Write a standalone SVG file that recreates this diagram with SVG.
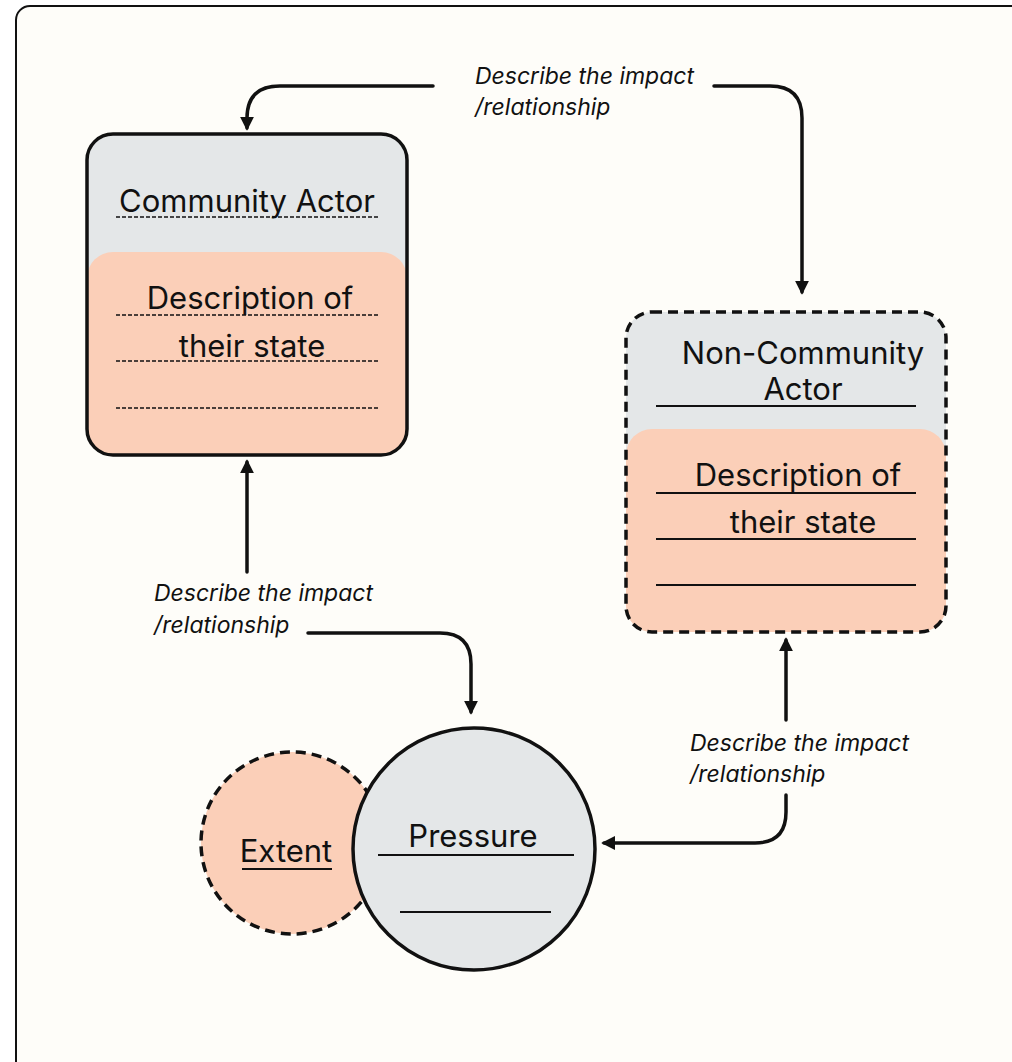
<svg xmlns="http://www.w3.org/2000/svg" width="1012" height="1062" viewBox="0 0 1012 1062">
<style>
.t{font-family:Inter,"Liberation Sans",sans-serif;font-size:31px;fill:#111}
.l{font-family:Inter,"Liberation Sans",sans-serif;font-size:23px;font-style:italic;fill:#111}
.c{fill:none;stroke:#111;stroke-width:3.5;stroke-linecap:round}
.u{stroke:#111;stroke-width:1.8;fill:none}
.ud{stroke:#111;stroke-width:1.5;stroke-dasharray:4 2;fill:none}
</style>
<defs>
<marker id="ah" viewBox="0 0 10 10" refX="8" refY="5" markerWidth="4" markerHeight="4" orient="auto-start-reverse" markerUnits="strokeWidth">
<path d="M0,0 L10,5 L0,10 z" fill="#111"/>
</marker>
<clipPath id="cpA"><rect x="87" y="134" width="320" height="321" rx="26"/></clipPath>
<clipPath id="cpB"><rect x="626" y="312" width="320" height="320" rx="26"/></clipPath>
</defs>
<rect x="16" y="6" width="1020" height="1080" rx="14" fill="#fefdf9" stroke="#111" stroke-width="2"/>
<g id="connectors">
<path class="c" d="M433,86 H280 Q247,86 247,118 V128" marker-end="url(#ah)"/>
<path class="c" d="M714,86 H770 Q802,86 802,118 V292" marker-end="url(#ah)"/>
<path class="c" d="M247,572 V462" marker-end="url(#ah)"/>
<path class="c" d="M308,633 H440 Q471,633 471,664 V712" marker-end="url(#ah)"/>
<path class="c" d="M786,720 V640" marker-end="url(#ah)"/>
<path class="c" d="M786,795 V812 Q786,843 755,843 H604" marker-end="url(#ah)"/>
<text class="l" x="475" y="84">Describe the impact</text>
<text class="l" x="475" y="115">/relationship</text>
<text class="l" x="154" y="601">Describe the impact</text>
<text class="l" x="154" y="633">/relationship</text>
<text class="l" x="690" y="751">Describe the impact</text>
<text class="l" x="690" y="782">/relationship</text>
</g>
<g id="community-actor">
<g clip-path="url(#cpA)">
<rect x="87" y="134" width="320" height="321" fill="#e4e7e8"/>
<rect x="87" y="252" width="320" height="240" rx="26" fill="#fbcfb8"/>
</g>
<rect x="87" y="134" width="320" height="321" rx="26" fill="none" stroke="#111" stroke-width="3.5"/>
<text class="t" x="247" y="212" text-anchor="middle">Community Actor</text>
<line class="ud" x1="116" y1="217" x2="378" y2="217"/>
<text class="t" x="250" y="309" text-anchor="middle">Description of</text>
<line class="ud" x1="116" y1="315" x2="378" y2="315"/>
<text class="t" x="252" y="357" text-anchor="middle">their state</text>
<line class="ud" x1="116" y1="361" x2="378" y2="361"/>
<line class="ud" x1="116" y1="408" x2="378" y2="408"/>
</g>
<g id="non-community-actor">
<g clip-path="url(#cpB)">
<rect x="626" y="312" width="320" height="320" fill="#e4e7e8"/>
<rect x="626" y="429" width="320" height="240" rx="26" fill="#fbcfb8"/>
</g>
<rect x="626" y="312" width="320" height="320" rx="26" fill="none" stroke="#111" stroke-width="3.5" stroke-dasharray="10 6"/>
<text class="t" x="803" y="364" text-anchor="middle">Non-Community</text>
<text class="t" x="803" y="400" text-anchor="middle">Actor</text>
<line class="u" x1="656" y1="406" x2="916" y2="406"/>
<text class="t" x="798" y="486" text-anchor="middle">Description of</text>
<line class="u" x1="656" y1="493" x2="916" y2="493"/>
<text class="t" x="803" y="533" text-anchor="middle">their state</text>
<line class="u" x1="656" y1="539" x2="916" y2="539"/>
<line class="u" x1="656" y1="585" x2="916" y2="585"/>
</g>
<g id="extent">
<circle cx="292" cy="843" r="91" fill="#fbcfb8" stroke="#111" stroke-width="3.5" stroke-dasharray="10 6"/>
<text class="t" x="286" y="862" text-anchor="middle">Extent</text>
<line class="u" x1="242" y1="869" x2="332" y2="869"/>
</g>
<g id="pressure">
<circle cx="474" cy="849" r="121" fill="#e4e7e8" stroke="#111" stroke-width="3.5"/>
<text class="t" x="473" y="847" text-anchor="middle">Pressure</text>
<line class="u" x1="378" y1="855" x2="574" y2="855"/>
<line class="u" x1="400" y1="912" x2="551" y2="912"/>
</g>
</svg>
